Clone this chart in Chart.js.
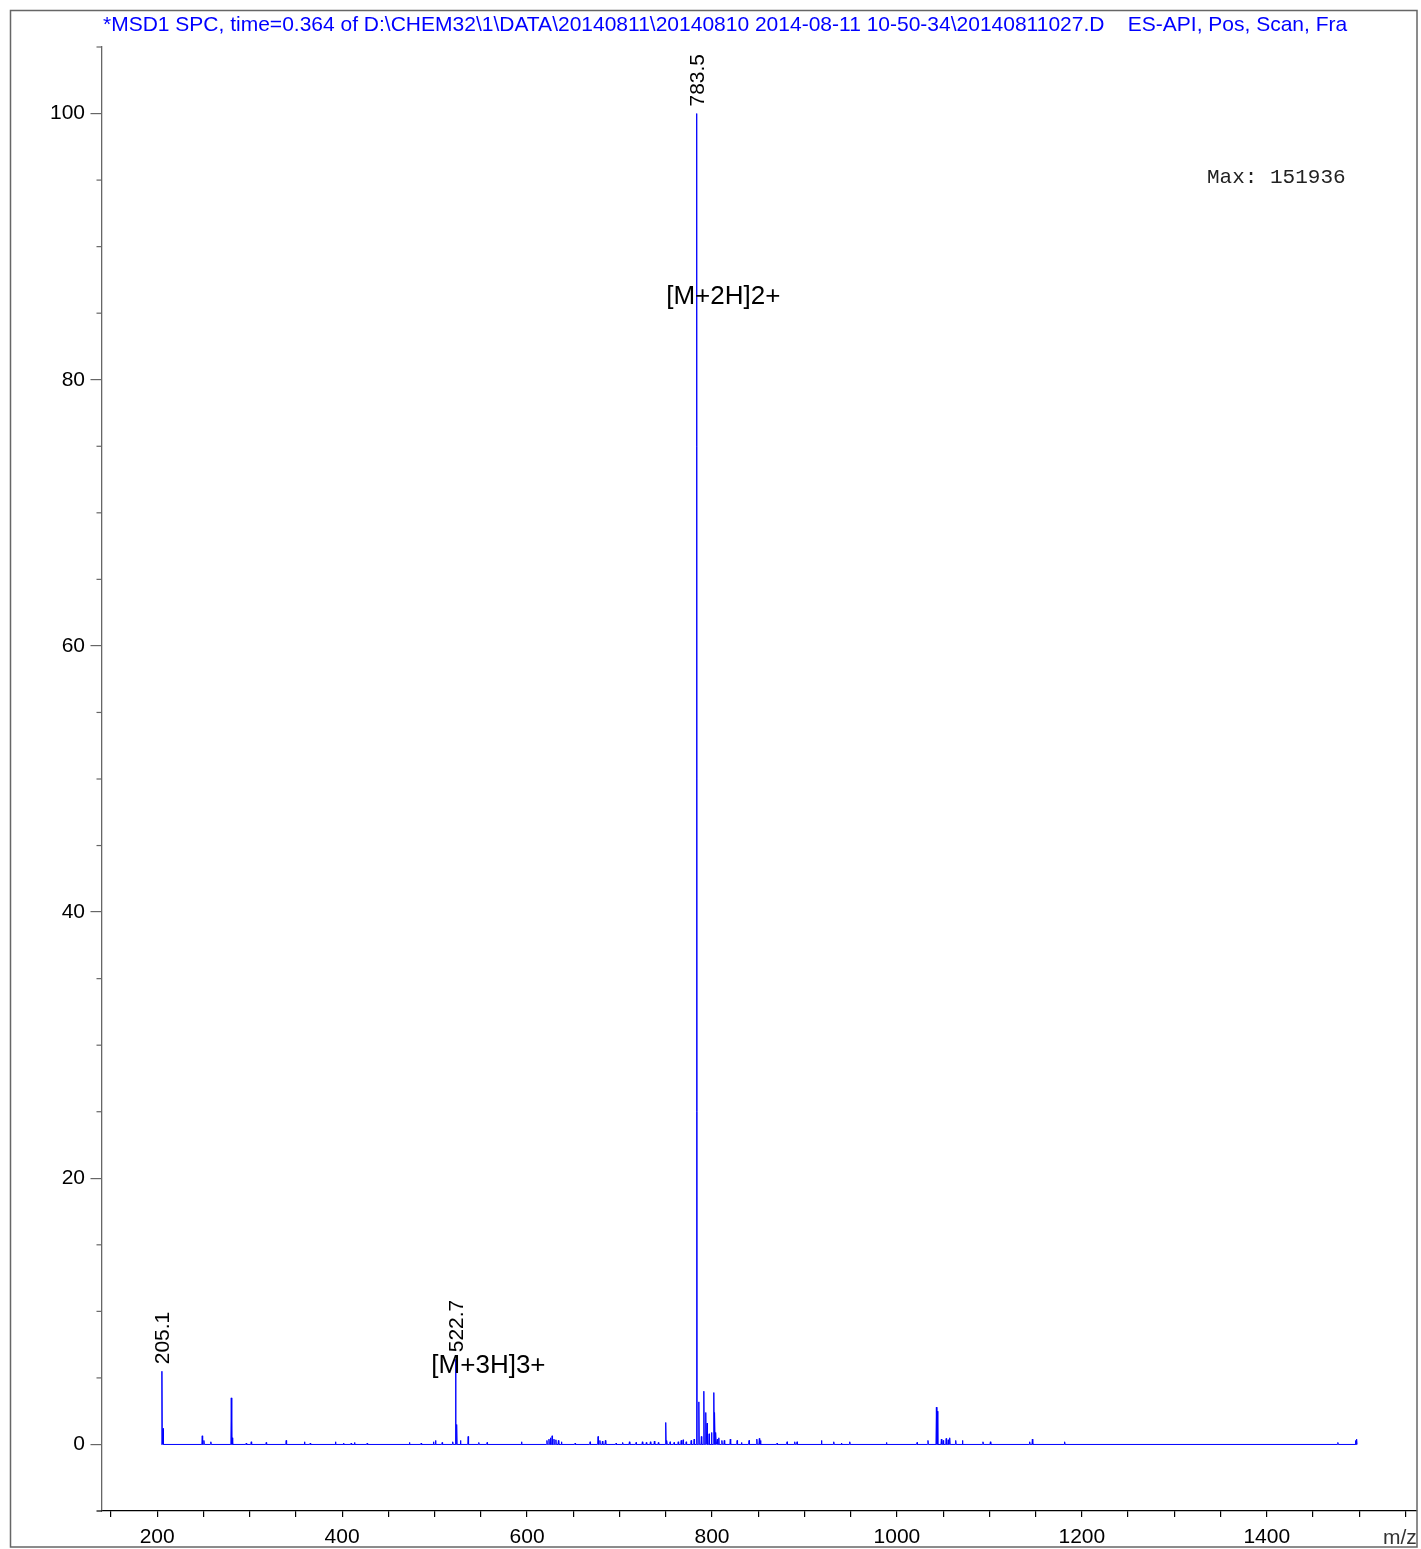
<!DOCTYPE html>
<html>
<head>
<meta charset="utf-8">
<script src="https://cdn.jsdelivr.net/npm/chart.js@4.4.1/dist/chart.umd.min.js"></script>
<style>
  html, body { margin: 0; padding: 0; background: #fff; }
  #msChart { display: block; }
</style>
</head>
<body>
<canvas id="msChart" width="1421" height="1549"></canvas>
<script>
// Spectrum peaks: m/z and relative abundance (%)
const peakMz = [
    205.1, 206.3, 248.7, 250.5, 258.0, 280.1, 281.2, 296.3, 301.7, 317.9,
    339.5, 359.3, 365.5, 392.8, 401.5, 409.8, 413.4, 427.1, 472.8, 485.5,
    498.8, 501.0, 508.2, 519.6, 522.7, 523.9, 528.0, 536.3, 547.8, 556.8,
    594.0, 621.5, 623.7, 625.3, 627.1, 629.1, 631.2, 633.9, 637.2, 652.0,
    668.2, 676.8, 678.8, 681.5, 684.7, 696.3, 703.4, 710.7, 717.9, 724.7,
    729.0, 733.4, 737.7, 742.0, 750.0, 751.2, 754.7, 759.0, 763.5, 766.7,
    768.8, 772.1, 777.5, 780.7, 783.5, 785.8, 788.5, 791.2, 793.3, 794.7,
    796.9, 799.5, 802.0, 803.0, 804.2, 805.8, 807.4, 810.7, 813.3, 819.8,
    827.2, 831.9, 840.1, 848.5, 851.2, 852.5, 870.4, 881.2, 889.5, 892.0,
    918.4, 931.7, 940.0, 949.0, 988.7, 1021.8, 1033.6, 1042.7, 1043.8, 1048.1,
    1050.1, 1053.3, 1055.5, 1057.1, 1063.6, 1070.9, 1093.1, 1101.1, 1143.6, 1146.5,
    1181.4, 1476.9, 1496.0, 1497.2
];
const peakAbund = [
    5.5, 1.2, 0.65, 0.3, 0.2, 3.5, 0.5, 0.1, 0.2, 0.15,
    0.3, 0.2, 0.1, 0.2, 0.1, 0.1, 0.15, 0.1, 0.15, 0.1,
    0.2, 0.3, 0.15, 0.2, 6.4, 1.5, 0.3, 0.6, 0.15, 0.15,
    0.2, 0.3, 0.4, 0.5, 0.65, 0.4, 0.35, 0.3, 0.2, 0.1,
    0.2, 0.6, 0.3, 0.25, 0.3, 0.1, 0.15, 0.2, 0.15, 0.2,
    0.15, 0.2, 0.25, 0.15, 1.65, 0.3, 0.2, 0.15, 0.2, 0.3,
    0.35, 0.2, 0.3, 0.4, 100, 3.2, 0.6, 4.0, 2.4, 1.6,
    0.8, 0.9, 3.9, 2.4, 0.9, 0.4, 0.5, 0.3, 0.3, 0.4,
    0.3, 0.15, 0.3, 0.4, 0.45, 0.3, 0.1, 0.2, 0.2, 0.2,
    0.3, 0.2, 0.1, 0.2, 0.15, 0.15, 0.3, 2.8, 2.5, 0.4,
    0.3, 0.45, 0.35, 0.5, 0.3, 0.3, 0.2, 0.2, 0.2, 0.4,
    0.2, 0.15, 0.3, 0.4
];

// peaks that carry an m/z label
const labelledPeaks = [205.1, 522.7, 783.5];

// ion annotations and where they sit (m/z, abundance of the text's left-middle point)
const ionLabels = ['[M+2H]2+', '[M+3H]3+'];
const ionLabelMz = [750.5, 496.5];
const ionLabelAbund = [86.2, 5.9];

// axes
const xTickValues = [150, 200, 250, 300, 350, 400, 450, 500, 550, 600, 650, 700, 750,
    800, 850, 900, 950, 1000, 1050, 1100, 1150, 1200, 1250, 1300, 1350, 1400, 1450, 1500, 1550];
const xTickLabels = [200, 400, 600, 800, 1000, 1200, 1400];
const yTickValues = [0, 20, 40, 60, 80, 100];
const yMinorTicks = [-5, 5, 10, 15, 25, 30, 35, 45, 50, 55, 65, 70, 75, 85, 90, 95, 105];

const titleText = '*MSD1 SPC, time=0.364 of D:\\CHEM32\\1\\DATA\\20140811\\20140810 2014-08-11 10-50-34\\20140811027.D    ES-API, Pos, Scan, Fra';
const maxText = 'Max: 151936';
const xAxisText = 'm/z';

const sans = '"Liberation Sans", Arial, sans-serif';

// each centroid drawn as a narrow spike on the baseline
const spectrum = [];
peakMz.forEach((mz, i) => {
    spectrum.push({ x: mz - 0.45, y: 0 });
    spectrum.push({ x: mz, y: peakAbund[i] });
    spectrum.push({ x: mz + 0.45, y: 0 });
});

const decorPlugin = {
    id: 'msDecor',
    afterDraw(chart) {
        const ctx = chart.ctx;
        const xs = chart.scales.x;
        const ys = chart.scales.y;
        const area = chart.chartArea;
        ctx.save();

        // outer frame
        ctx.strokeStyle = '#666';
        ctx.lineWidth = 1.5;
        ctx.strokeRect(10.5, 10.5, 1406.5, 1536.5);

        // minor ticks on the y axis
        ctx.lineWidth = 1.2;
        yMinorTicks.forEach(v => {
            const py = ys.getPixelForValue(v);
            ctx.strokeStyle = v < 0 ? '#000' : '#666';
            ctx.beginPath();
            ctx.moveTo(area.left - 5.5, py);
            ctx.lineTo(area.left, py);
            ctx.stroke();
        });

        // title
        ctx.fillStyle = '#0000ff';
        ctx.font = '21px ' + sans;
        ctx.textAlign = 'left';
        ctx.textBaseline = 'alphabetic';
        ctx.fillText(titleText, 103, 31);

        // max intensity
        ctx.fillStyle = '#222';
        ctx.font = '21px "Liberation Mono", "Courier New", monospace';
        ctx.fillText(maxText, 1207, 183);

        // m/z value above labelled peaks
        ctx.fillStyle = '#000';
        ctx.font = '21px ' + sans;
        labelledPeaks.forEach(mz => {
            const i = peakMz.indexOf(mz);
            const px = xs.getPixelForValue(mz);
            const py = ys.getPixelForValue(peakAbund[i]);
            ctx.save();
            ctx.translate(px, py - 7);
            ctx.rotate(-Math.PI / 2);
            ctx.textAlign = 'left';
            ctx.fillText(mz.toFixed(1), 0, 7.5);
            ctx.restore();
        });

        // ion annotations
        ctx.font = '26px ' + sans;
        ctx.textBaseline = 'middle';
        ionLabels.forEach((txt, i) => {
            ctx.fillText(txt, xs.getPixelForValue(ionLabelMz[i]), ys.getPixelForValue(ionLabelAbund[i]));
        });

        // axis unit, cut by the frame
        ctx.beginPath();
        ctx.rect(10, 10, 1407, 1537);
        ctx.clip();
        ctx.fillStyle = '#333';
        ctx.font = '21px ' + sans;
        ctx.textBaseline = 'alphabetic';
        ctx.fillText(xAxisText, 1383, 1544);

        ctx.restore();
    }
};

new Chart(document.getElementById('msChart'), {
    type: 'scatter',
    data: {
        datasets: [{
            data: spectrum,
            showLine: true,
            borderColor: '#0000ff',
            borderWidth: 1,
            pointRadius: 0,
            tension: 0
        }]
    },
    options: {
        responsive: false,
        animation: false,
        devicePixelRatio: 1,
        layout: { padding: { top: 47, right: 4, left: 0, bottom: 0 } },
        plugins: {
            legend: { display: false },
            tooltip: { enabled: false }
        },
        scales: {
            x: {
                type: 'linear',
                min: 140.3,
                max: 1562.5,
                afterBuildTicks: s => { s.ticks = xTickValues.map(v => ({ value: v })); },
                afterFit: s => { s.height = 38; },
                ticks: {
                    callback: v => xTickLabels.includes(v) ? String(v) : '',
                    color: '#000',
                    font: { family: sans, size: 21 },
                    padding: 8,
                    maxRotation: 0,
                    autoSkip: false
                },
                grid: { drawOnChartArea: false, tickLength: 6, color: '#000', lineWidth: 1.2 },
                border: { color: '#000', width: 1.3 }
            },
            y: {
                min: -5,
                max: 105,
                afterBuildTicks: s => { s.ticks = yTickValues.map(v => ({ value: v })); },
                afterFit: s => { s.width = 102; },
                ticks: {
                    color: '#000',
                    font: { family: sans, size: 21 },
                    padding: 5.5,
                    autoSkip: false
                },
                grid: { drawOnChartArea: false, tickLength: 11.5, color: '#666', lineWidth: 1.2 },
                border: { color: '#666', width: 1.3 }
            }
        }
    },
    plugins: [decorPlugin]
});
</script>
</body>
</html>
